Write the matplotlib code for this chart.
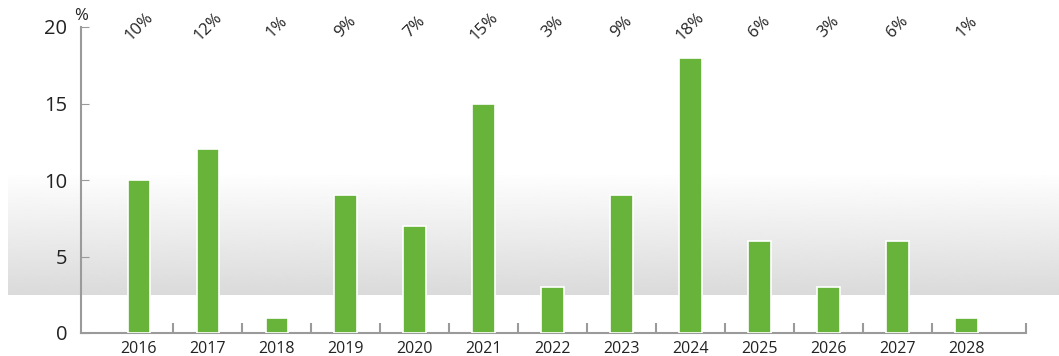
import numpy as np
import matplotlib.pyplot as plt

years = ["2016", "2017", "2018", "2019", "2020", "2021", "2022",
         "2023", "2024", "2025", "2026", "2027", "2028"]
values = [10, 12, 1, 9, 7, 15, 3, 9, 18, 6, 3, 6, 1]
pct_labels = ["10%", "12%", "1%", "9%", "7%", "15%", "3%",
              "9%", "18%", "6%", "3%", "6%", "1%"]
y_ticks = [0, 5, 10, 15, 20]

plt.rcParams['font.family'] = ['Open Sans', 'DejaVu Sans']

W, H = 1059, 356
fig = plt.figure(figsize=(W / 100, H / 100), dpi=100)

# grey gradient band behind the chart
bg = fig.add_axes([8 / W, (H - 295) / H, 1 - 8 / W, 120 / H], zorder=0)
grad = np.linspace(0.995, 0.855, 256).reshape(-1, 1)
bg.imshow(grad, aspect='auto', cmap='gray', vmin=0, vmax=1,
          extent=[0, 1, 0, 1], origin='upper')
bg.axis('off')

ax = fig.add_axes([81 / W, (H - 333) / H, (1026 - 81) / W, 306 / H], zorder=1)
ax.patch.set_alpha(0)

x = np.arange(len(years))
ax.bar(x, values, width=0.33, color='#68b43a', edgecolor='white',
       linewidth=1.2, zorder=3)

for xi, lab in zip(x, pct_labels):
    ax.text(xi, 20.0, lab, rotation=45, ha='center', va='center',
            fontsize=12, color='#222222')

ax.set_xlim(-0.84, 12.86)
ax.set_ylim(0, 20)

ax.set_yticks(y_ticks)
ax.set_yticklabels([str(v) for v in y_ticks], fontsize=14.5, color='#222222')
ax.set_xticks(x)
ax.set_xticklabels(years, fontsize=11.5, color='#222222')
ax.set_xticks(np.append(x[:-1] + 0.5, 12.86), minor=True)

for s in ['top', 'right']:
    ax.spines[s].set_visible(False)
for s in ['left', 'bottom']:
    ax.spines[s].set_color('#9a9a9a')
    ax.spines[s].set_linewidth(1.5)

ax.tick_params(axis='y', direction='in', length=6, color='#9a9a9a', pad=10)
ax.tick_params(axis='x', which='major', length=0, pad=6)
ax.tick_params(axis='x', which='minor', direction='in', length=7,
               width=1.5, color='#9a9a9a')

ax.text(-0.84, 20.2, "%", ha='center', va='bottom', fontsize=12,
        color='#222222')

fig.savefig("out.png", dpi=100)
